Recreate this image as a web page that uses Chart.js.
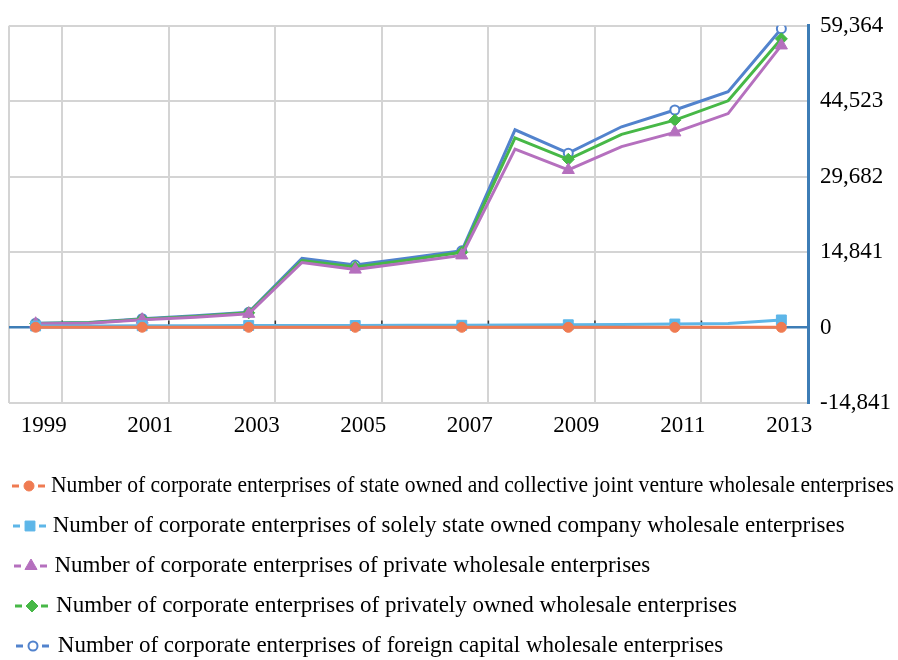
<!DOCTYPE html>
<html lang="en">
  <head>
    <meta charset="UTF-8" />
    <title>Corporate wholesale enterprises by ownership, 1999-2013</title>
    <style>
      html, body { margin: 0; padding: 0; background: #fff; }
      #wrap { width: 898px; height: 660px; }
    </style>
  </head>
  <body>
    <div id="wrap"><canvas id="myChart" width="898" height="660"></canvas></div>

    <script src="https://cdn.jsdelivr.net/npm/chart.js@4.4.0/dist/chart.umd.min.js"></script>
    <script>
      const years = ['1999', '2000', '2001', '2002', '2003', '2004', '2005', '2006',
                     '2007', '2008', '2009', '2010', '2011', '2012', '2013'];

      // number of corporate enterprises per ownership type
      const stateCollective = [60, 60, 60, 50, 50, 50, 50, 50, 50, 50, 40, 40, 40, 40, 40];
      const stateSole = [300, 300, 350, 350, 400, 400, 400, 450, 450, 500, 550, 600, 700, 800, 1500];
      const privateEnt = [750, 850, 1550, 2050, 2700, 12800, 11400, 12800, 14200, 35100, 31000, 35600, 38400, 42100, 55500];
      const privatelyOwned = [800, 950, 1650, 2200, 2900, 13200, 11900, 13300, 14800, 37300, 33100, 38000, 40800, 44600, 56800];
      const foreignCapital = [850, 1000, 1750, 2300, 3000, 13600, 12300, 13700, 15100, 38900, 34300, 39500, 42800, 46400, 58800];

      const yTicks = [-14841, 0, 14841, 29682, 44523, 59364];

      const seriesNames = [
        'Number of corporate enterprises of state owned and collective joint venture wholesale enterprises',
        'Number of corporate enterprises of solely state owned company wholesale enterprises',
        'Number of corporate enterprises of private wholesale enterprises',
        'Number of corporate enterprises of privately owned wholesale enterprises',
        'Number of corporate enterprises of foreign capital wholesale enterprises'
      ];

      const gridGrey = '#d4d4d4';
      const axisBlue = '#3d7db6';
      const serif = '"Liberation Serif", "Times New Roman", serif';

      function series(label, data, color, style, radius, fill) {
        return {
          label: label,
          data: data,
          borderColor: color,
          backgroundColor: fill || color,
          borderWidth: 3,
          tension: 0,
          pointStyle: style,
          markerRadius: radius,
          // markers only on every second year
          pointRadius: c => (c.dataIndex % 2 === 0 ? radius : 0),
          pointHoverRadius: c => (c.dataIndex % 2 === 0 ? radius : 0),
          pointBackgroundColor: fill || color,
          pointBorderColor: color,
          pointBorderWidth: fill ? 2 : 1
        };
      }

      // little black ticks along the zero line
      const zeroTicks = {
        id: 'zeroTicks',
        beforeDatasetsDraw(chart) {
          const { ctx, scales: { x, y } } = chart;
          const y0 = y.getPixelForValue(0);
          ctx.save();
          ctx.strokeStyle = '#333';
          ctx.lineWidth = 1.5;
          for (let i = 1; i < years.length; i += 2) {
            const px = (x.getPixelForValue(i - 1) + x.getPixelForValue(i)) / 2;
            ctx.beginPath();
            ctx.moveTo(px, y0 - 7);
            ctx.lineTo(px, y0);
            ctx.stroke();
          }
          ctx.restore();
        }
      };

      // legend: one row per series, line-and-marker swatch then the name
      const lineLegend = {
        id: 'lineLegend',
        afterDraw(chart) {
          const ctx = chart.ctx;
          const top = chart.scales.x.bottom;
          chart.data.datasets.forEach((ds, i) => {
            const y = top + 31 + i * 40;
            const mx = 29 + i;
            ctx.save();
            ctx.strokeStyle = ds.borderColor;
            ctx.lineWidth = 3;
            ctx.beginPath();
            ctx.moveTo(mx - 17, y); ctx.lineTo(mx - 10, y);
            ctx.moveTo(mx + 9, y); ctx.lineTo(mx + 16, y);
            ctx.stroke();
            ctx.fillStyle = ds.pointBackgroundColor;
            ctx.lineWidth = ds.pointBorderWidth;
            Chart.helpers.drawPoint(ctx, {
              pointStyle: ds.pointStyle,
              radius: ds.markerRadius,
              borderWidth: ds.pointBorderWidth,
              rotation: 0
            }, mx, y);
            const tx = 51 + i * 1.7;
            ctx.font = '23px ' + serif;
            ctx.fillStyle = '#000';
            ctx.textBaseline = 'middle';
            ctx.textAlign = 'left';
            ctx.fillText(ds.label, tx, y, chart.width - tx - 4);
            ctx.restore();
          });
        }
      };

      new Chart(document.getElementById('myChart'), {
        type: 'line',
        data: {
          labels: years,
          datasets: [
            series(seriesNames[0], stateCollective, '#ef7b52', 'circle', 5),
            series(seriesNames[1], stateSole, '#5db6e8', 'rect', 7),
            series(seriesNames[2], privateEnt, '#b570be', 'triangle', 7),
            series(seriesNames[3], privatelyOwned, '#47b847', 'rectRot', 6),
            series(seriesNames[4], foreignCapital, '#5283cd', 'circle', 4.5, '#ffffff')
          ]
        },
        options: {
          responsive: false,
          animation: false,
          devicePixelRatio: 1,
          layout: { padding: { left: 9, top: 24, right: 0, bottom: 205 } },
          plugins: {
            legend: { display: false },
            tooltip: { enabled: false }
          },
          scales: {
            x: {
              offset: true,
              afterFit: s => { s.height = 52; },
              border: { display: false },
              grid: {
                offset: true,
                drawTicks: false,
                lineWidth: 2,
                color: c => (c.index === undefined || c.index === 0 || c.index % 2 === 1) ? gridGrey : 'rgba(0,0,0,0)'
              },
              ticks: {
                autoSkip: false,
                maxRotation: 0,
                padding: 9,
                labelOffset: 8,
                color: '#000',
                font: { family: serif, size: 23 },
                callback: (v, i) => (i % 2 === 0 ? years[i] : '')
              }
            },
            y: {
              position: 'right',
              min: yTicks[0],
              max: yTicks[yTicks.length - 1],
              afterBuildTicks: s => { s.ticks = yTicks.map(v => ({ value: v })); },
              afterFit: s => { s.width = 90; },
              border: { display: true, color: axisBlue, width: 3 },
              grid: {
                drawTicks: false,
                color: c => (c.tick && c.tick.value === 0 ? axisBlue : gridGrey),
                lineWidth: c => (c.tick && c.tick.value === 0 ? 2.5 : 2)
              },
              ticks: {
                padding: 12,
                color: '#000',
                font: { family: serif, size: 23 },
                callback: v => v.toLocaleString('en-US')
              }
            }
          }
        },
        plugins: [zeroTicks, lineLegend]
      });
    </script>
  </body>
</html>
